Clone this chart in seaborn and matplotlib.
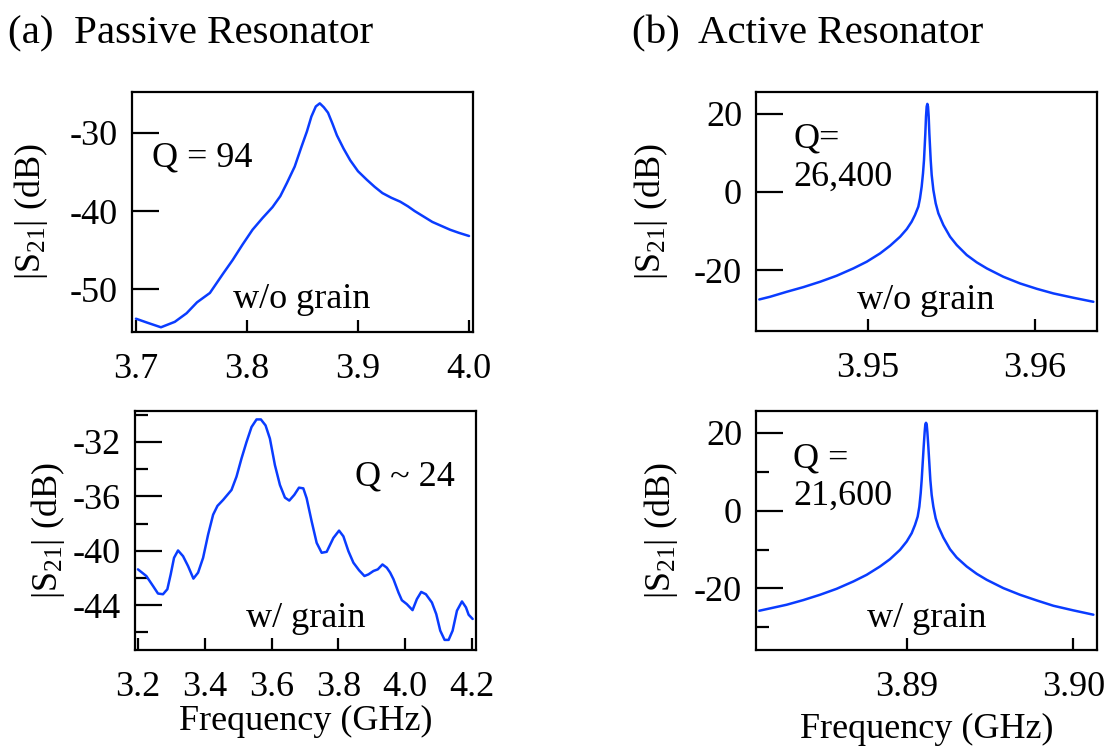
import matplotlib
matplotlib.use("Agg")
import matplotlib.pyplot as plt
import pandas as pd
import seaborn as sns

# ---- measured transmission |S21| (dB) ----
# (a) passive resonator, without grain
passive_clean_f = [3.700, 3.710, 3.7225, 3.735, 3.7456, 3.755, 3.7666, 3.7786, 3.787,
                   3.796, 3.805, 3.814, 3.823, 3.830, 3.836, 3.843, 3.849, 3.854,
                   3.858, 3.862, 3.8656, 3.8692, 3.873, 3.877, 3.881, 3.887, 3.893,
                   3.900, 3.908, 3.915, 3.922, 3.930, 3.938, 3.945, 3.951, 3.959,
                   3.967, 3.975, 3.983, 3.991, 4.000]
passive_clean_db = [-53.8, -54.3, -54.9, -54.2, -53.1, -51.7, -50.5, -48.0, -46.3,
                    -44.3, -42.4, -40.9, -39.5, -38.1, -36.4, -34.3, -31.8, -29.8,
                    -27.9, -26.6, -26.2, -26.7, -27.4, -28.8, -30.3, -32.0, -33.5,
                    -34.9, -36.0, -36.9, -37.7, -38.3, -38.8, -39.4, -40.0, -40.7,
                    -41.4, -41.9, -42.4, -42.8, -43.2]

# (a) passive resonator, with grain
passive_grain_f = [3.200, 3.225, 3.245, 3.260, 3.275, 3.288, 3.298, 3.308, 3.320, 3.335,
                   3.350, 3.366, 3.380, 3.395, 3.410, 3.425, 3.438, 3.455, 3.480, 3.495,
                   3.510, 3.525, 3.540, 3.555, 3.568, 3.582, 3.595, 3.610, 3.625, 3.640,
                   3.653, 3.668, 3.682, 3.695, 3.705, 3.720, 3.735, 3.750, 3.765, 3.785,
                   3.802, 3.815, 3.830, 3.845, 3.862, 3.878, 3.890, 3.905, 3.918, 3.932,
                   3.945, 3.955, 3.965, 3.980, 3.990, 4.005, 4.022, 4.035, 4.048, 4.062,
                   4.080, 4.093, 4.105, 4.118, 4.130, 4.142, 4.155, 4.170, 4.182, 4.190,
                   4.202]
passive_grain_db = [-41.37, -41.86, -42.59, -43.15, -43.20, -42.83, -41.74, -40.52, -39.98, -40.40,
                    -41.13, -42.05, -41.61, -40.52, -38.81, -37.35, -36.70, -36.26, -35.53, -34.55,
                    -33.21, -32.00, -30.90, -30.34, -30.34, -30.78, -31.75, -33.70, -35.16, -36.09,
                    -36.31, -35.89, -35.36, -35.41, -36.14, -37.84, -39.42, -40.15, -40.08, -39.06,
                    -38.52, -38.94, -40.03, -40.88, -41.44, -41.86, -41.74, -41.49, -41.37, -41.01,
                    -41.25, -41.61, -42.10, -43.08, -43.64, -43.93, -44.37, -43.56, -43.03, -43.20,
                    -43.81, -44.66, -45.88, -46.56, -46.56, -45.88, -44.41, -43.73, -44.17, -44.71,
                    -45.02]

# (b) active resonator, without grain
active_clean_f = [3.94349, 3.94413, 3.94513, 3.94613, 3.94713, 3.94812, 3.94912, 3.94992,
                  3.95072, 3.95132, 3.95192, 3.95232, 3.95261, 3.95281, 3.95301, 3.95311,
                  3.95321, 3.95329, 3.95335, 3.95339, 3.95343, 3.95347, 3.95351, 3.95355,
                  3.95359, 3.95363, 3.95367, 3.95371, 3.95375, 3.95381, 3.95391, 3.95405,
                  3.95421, 3.95451, 3.95491, 3.95531, 3.95591, 3.95651, 3.95711, 3.95810,
                  3.95910, 3.96010, 3.96110, 3.96230, 3.96349]
active_clean_db = [-27.52, -26.84, -25.56, -24.36, -22.99, -21.45, -19.57, -17.86,
                   -15.73, -13.76, -11.45, -9.49, -7.61, -5.90, -3.76, -1.62,
                   1.37, 4.79, 8.21, 11.62, 15.04, 19.32, 21.88, 22.56,
                   21.88, 19.32, 15.04, 11.62, 8.21, 4.36, 0.51, -2.91,
                   -5.47, -8.46, -11.45, -13.59, -16.15, -18.03, -19.57, -21.71,
                   -23.42, -24.79, -25.98, -27.09, -28.12]

# (b) active resonator, with grain
active_grain_f = [3.88116, 3.88180, 3.88280, 3.88380, 3.88480, 3.88580, 3.88680, 3.88760,
                  3.88840, 3.88900, 3.88960, 3.89000, 3.89030, 3.89050, 3.89066, 3.89076,
                  3.89084, 3.89090, 3.89096, 3.89102, 3.89108, 3.89112, 3.89116, 3.89120,
                  3.89124, 3.89130, 3.89136, 3.89142, 3.89150, 3.89160, 3.89174, 3.89190,
                  3.89220, 3.89260, 3.89300, 3.89360, 3.89420, 3.89480, 3.89580, 3.89680,
                  3.89780, 3.89880, 3.90000, 3.90120]
active_grain_db = [-25.72, -25.12, -24.18, -22.98, -21.62, -20.08, -18.20, -16.49,
                   -14.35, -12.47, -10.08, -7.94, -5.80, -3.67, -1.53, 1.03,
                   4.45, 7.87, 12.15, 16.42, 20.26, 22.23, 22.57, 22.23,
                   20.26, 16.42, 12.15, 7.87, 4.03, 1.03, -1.96, -4.09,
                   -6.91, -9.91, -12.04, -14.35, -16.23, -17.77, -19.91, -21.62,
                   -23.07, -24.44, -25.63, -26.74]

# tick values and labels
tl_xticks, tl_xlabels = [3.7, 3.8, 3.9, 4.0], ["3.7", "3.8", "3.9", "4.0"]
tl_yticks, tl_ylabels = [-30, -40, -50], ["-30", "-40", "-50"]
bl_xticks = [3.2, 3.4, 3.6, 3.8, 4.0, 4.2]
bl_xlabels = ["3.2", "3.4", "3.6", "3.8", "4.0", "4.2"]
bl_yticks, bl_ylabels = [-32, -36, -40, -44], ["-32", "-36", "-40", "-44"]
bl_yminor = [-30, -34, -38, -42, -46]
tr_xticks, tr_xlabels = [3.95, 3.96], ["3.95", "3.96"]
br_xticks, br_xlabels = [3.89, 3.90], ["3.89", "3.90"]
r_yticks, r_ylabels = [20, 0, -20], ["20", "0", "-20"]
br_yminor = [10, -10, -30]

sns.set_theme(style="ticks")
plt.rcParams.update({
    "font.family": ["Liberation Serif", "DejaVu Serif"],
    "mathtext.fontset": "custom",
    "mathtext.rm": "Liberation Serif",
    "mathtext.it": "Liberation Serif:italic",
    "axes.unicode_minus": False,
    "text.color": "black",
    "axes.labelcolor": "black",
    "xtick.color": "black",
    "ytick.color": "black",
    "axes.edgecolor": "black",
    "axes.linewidth": 1.6,
})

LINE = "#0a3cff"
FS = 26
LONG, SHORT, MINOR = 19.4, 8.6, 9.4

fig = plt.figure(figsize=(11.08, 7.47), dpi=100)
ax_tl = fig.add_axes([0.1191, 0.5556, 0.3078, 0.3213])
ax_bl = fig.add_axes([0.1218, 0.1299, 0.3078, 0.3199])
ax_tr = fig.add_axes([0.6823, 0.5569, 0.3078, 0.3199])
ax_br = fig.add_axes([0.6823, 0.1299, 0.3078, 0.3199])


def draw(ax, f, db):
    df = pd.DataFrame({"f": f, "db": db})
    sns.lineplot(data=df, x="f", y="db", ax=ax, color=LINE, lw=1.8, sort=False)
    ax.set_xlabel("")
    ax.set_ylabel("")


def style(ax, xlim, ylim, xt, xl, yt, yl, x_long, y_minor=None):
    ax.set_xlim(*xlim)
    ax.set_ylim(*ylim)
    ax.set_xticks(xt)
    ax.set_xticklabels(xl)
    ax.set_yticks(yt)
    ax.set_yticklabels(yl)
    ax.set_xticks(x_long, minor=True)
    ax.set_yticks(y_minor if y_minor else [], minor=True)
    ax.tick_params(axis="both", which="both", direction="in", width=1.6,
                   color="black", labelcolor="black", labelsize=FS,
                   top=False, right=False)
    ax.tick_params(axis="x", which="major", length=SHORT, pad=15)
    ax.tick_params(axis="x", which="minor", length=LONG)
    ax.tick_params(axis="y", which="major", length=LONG, pad=10)
    ax.tick_params(axis="y", which="minor", length=MINOR)
    for s in ax.spines.values():
        s.set_visible(True)
        s.set_linewidth(1.6)
        s.set_color("black")


draw(ax_tl, passive_clean_f, passive_clean_db)
style(ax_tl, (3.6964, 4.0036), (-55.5, -24.74), tl_xticks, tl_xlabels,
      tl_yticks, tl_ylabels, [3.7, 4.0])

draw(ax_bl, passive_grain_f, passive_grain_db)
style(ax_bl, (3.191, 4.212), (-47.3, -29.72), bl_xticks, bl_xlabels,
      bl_yticks, bl_ylabels, [3.2, 3.4, 3.8, 4.0, 4.2], bl_yminor)

draw(ax_tr, active_clean_f, active_clean_db)
style(ax_tr, (3.94329, 3.96371), (-35.6, 25.6), tr_xticks, tr_xlabels,
      r_yticks, r_ylabels, [3.96])

draw(ax_br, active_grain_f, active_grain_db)
style(ax_br, (3.88096, 3.90142), (-35.8, 25.6), br_xticks, br_xlabels,
      r_yticks, r_ylabels, [3.90], br_yminor)

ylab = r"|S$_{21}$| (dB)"
for ax, xc in [(ax_tl, -0.240), (ax_bl, -0.199), (ax_tr, -0.252), (ax_br, -0.223)]:
    ax.set_ylabel(ylab, fontsize=FS, color="black")
    ax.yaxis.set_label_coords(xc, 0.5)

ax_bl.set_xlabel("Frequency (GHz)", fontsize=FS, color="black")
ax_bl.xaxis.set_label_coords(0.5, -0.232)
ax_br.set_xlabel("Frequency (GHz)", fontsize=FS, color="black")
ax_br.xaxis.set_label_coords(0.5, -0.262)

# annotations
notes = [
    (ax_tl, 0.059, 0.69, "Q = 94"),
    (ax_tl, 0.296, 0.10, "w/o grain"),
    (ax_bl, 0.645, 0.69, "Q ~ 24"),
    (ax_bl, 0.326, 0.096, "w/ grain"),
    (ax_tr, 0.109, 0.766, "Q="),
    (ax_tr, 0.109, 0.607, "26,400"),
    (ax_tr, 0.296, 0.092, "w/o grain"),
    (ax_br, 0.109, 0.762, "Q ="),
    (ax_br, 0.109, 0.607, "21,600"),
    (ax_br, 0.326, 0.096, "w/ grain"),
]
for ax, x, y, s in notes:
    ax.text(x, y, s, transform=ax.transAxes, fontsize=FS, va="baseline", color="black")

fig.text(0.0072, 0.9424, "(a)  Passive Resonator", fontsize=29.5, va="baseline", color="black")
fig.text(0.570, 0.9424, "(b)  Active Resonator", fontsize=29.5, va="baseline", color="black")

fig.savefig("out.png", dpi=100)
